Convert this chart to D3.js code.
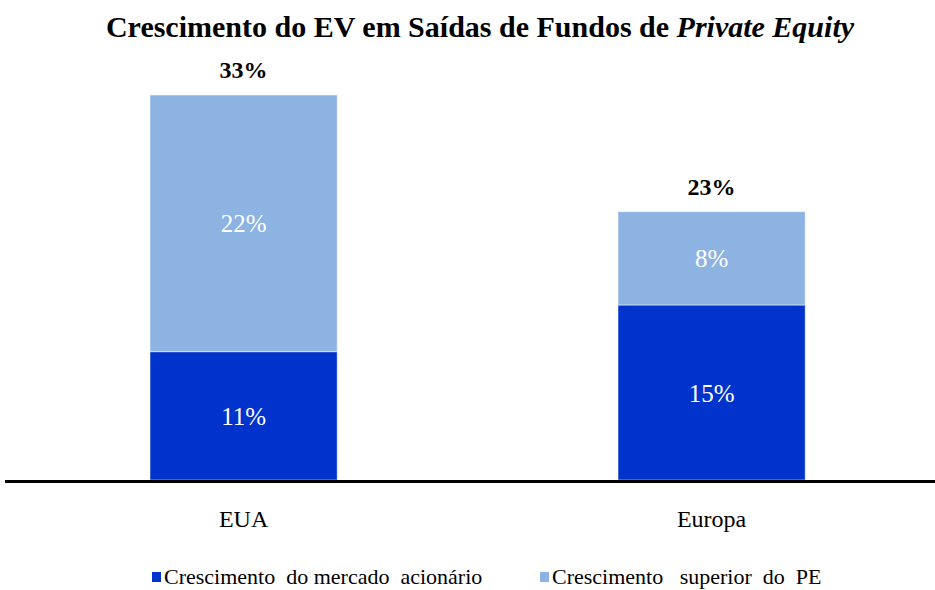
<!DOCTYPE html>
<html>
<head>
<meta charset="utf-8">
<script src="https://cdn.jsdelivr.net/npm/d3@7"></script>
<style>
  body { margin: 0; background: #fff; }
  svg text { font-family: "Liberation Serif", Tinos, "Times New Roman", Times, "DejaVu Serif", serif; }
</style>
</head>
<body>
<div id="chart"></div>
<script>
var regions = ["EUA", "Europa"];
var mercado = [11, 15];   // Crescimento do mercado acionário
var superior = [22, 8];   // Crescimento superior do PE
var totals = [33, 23];
var series_names = ["Crescimento  do mercado  acionário", "Crescimento   superior  do  PE"];
var colours = ["#0033cc", "#8db3e2"];

var width = 935, height = 590;

var svg = d3.select("#chart").append("svg")
    .attr("width", width)
    .attr("height", height);

// title
var title = svg.append("text")
    .attr("x", 480)
    .attr("y", 37)
    .attr("text-anchor", "middle")
    .attr("font-size", 30)
    .attr("font-weight", "bold");
title.append("tspan").text("Crescimento do EV em Saídas de Fundos de ");
title.append("tspan").attr("font-style", "italic").text("Private Equity");

var x = d3.scaleBand()
    .domain(regions)
    .range([9.6, 945.6])
    .paddingInner(0.6)
    .paddingOuter(0.3);

var y = d3.scaleLinear()
    .domain([0, 33])
    .range([480, 95]);

// stack the two series
var rows = regions.map(function(r, i){
    return {region: r, mercado: mercado[i], superior: superior[i]};
});
var stack = d3.stack().keys(["mercado", "superior"]);
var layers = stack(rows);

var g = svg.selectAll("g.layer")
    .data(layers)
    .enter().append("g")
    .attr("class", "layer")
    .attr("fill", function(d, i){ return colours[i]; });

g.selectAll("rect")
    .data(function(d){ return d; })
    .enter().append("rect")
    .attr("x", function(d){ return x(d.data.region); })
    .attr("y", function(d){ return y(d[1]); })
    .attr("width", x.bandwidth())
    .attr("height", function(d){ return y(d[0]) - y(d[1]); })
    .attr("stroke", "#ffffff")
    .attr("stroke-opacity", 0.5)
    .attr("stroke-width", 1);

// segment labels
g.selectAll("text")
    .data(function(d){ return d; })
    .enter().append("text")
    .attr("x", function(d){ return x(d.data.region) + x.bandwidth() / 2; })
    .attr("y", function(d){ return (y(d[0]) + y(d[1])) / 2 + 9; })
    .attr("text-anchor", "middle")
    .attr("font-size", 25)
    .attr("fill", "#ffffff")
    .text(function(d){ return (d[1] - d[0]) + "%"; });

// totals
svg.selectAll("text.total")
    .data(totals)
    .enter().append("text")
    .attr("class", "total")
    .attr("x", function(d, i){ return x(regions[i]) + x.bandwidth() / 2; })
    .attr("y", function(d){ return y(d) - 17; })
    .attr("text-anchor", "middle")
    .attr("font-size", 24)
    .attr("font-weight", "bold")
    .text(function(d){ return d + "%"; });

// baseline
svg.append("line")
    .attr("x1", 5)
    .attr("x2", 935)
    .attr("y1", y(0) + 1.5)
    .attr("y2", y(0) + 1.5)
    .attr("stroke", "#000")
    .attr("stroke-width", 3);

// category labels
svg.selectAll("text.cat")
    .data(regions)
    .enter().append("text")
    .attr("class", "cat")
    .attr("x", function(d){ return x(d) + x.bandwidth() / 2; })
    .attr("y", 527)
    .attr("text-anchor", "middle")
    .attr("font-size", 24)
    .text(function(d){ return d; });

// legend
var legend_x = [152, 540];
var legend = svg.selectAll("g.legend")
    .data(series_names)
    .enter().append("g")
    .attr("class", "legend")
    .attr("transform", function(d, i){ return "translate(" + legend_x[i] + ",572)"; });

legend.append("rect")
    .attr("width", 9)
    .attr("height", 10)
    .attr("fill", function(d, i){ return colours[i]; });

legend.append("text")
    .attr("x", 12)
    .attr("y", 12)
    .attr("font-size", 22)
    .style("white-space", "pre")
    .text(function(d){ return d; });
</script>
</body>
</html>
